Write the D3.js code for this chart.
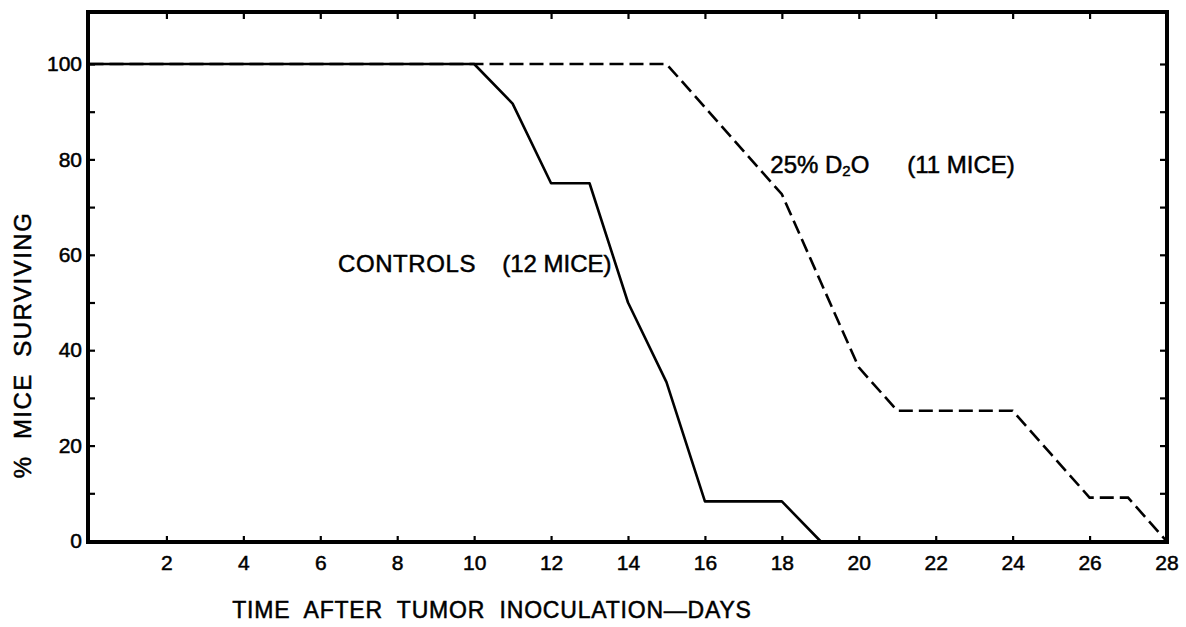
<!DOCTYPE html>
<meta charset="utf-8">
<style>
body { margin: 0; background: #fff; }
svg { font-family: "Liberation Sans", Arial, sans-serif; }
text { fill: #000; stroke: #000; stroke-width: 0.5px; white-space: pre; }
</style>
<svg width="1186" height="627"></svg>
<script src="https://cdn.jsdelivr.net/npm/d3@7"></script>
<script>
// survival curves, days vs % mice surviving
var controlDays = [0, 10, 11, 12, 13, 14, 15, 16, 18, 19];
var controlPct  = [100, 100, 91.7, 75, 75, 50, 33.3, 8.3, 8.3, 0];

var d2oDays = [0, 15, 16, 17, 18, 19, 20, 21, 24, 25, 26, 27, 28];
var d2oPct  = [100, 100, 90.9, 81.8, 72.7, 54.5, 36.4, 27.3, 27.3, 18.2, 9.1, 9.1, 0];

var xTicks = [2, 4, 6, 8, 10, 12, 14, 16, 18, 20, 22, 24, 26, 28];
var yTicks = [0, 10, 20, 30, 40, 50, 60, 70, 80, 90, 100];

var svg = d3.select("svg");

var x = d3.scaleLinear().domain([0, 28]).range([89.5, 1166.5]);
var y = d3.scaleLinear().domain([0, 110.9]).range([541, 12]);

var line = d3.line()
    .x(function(d) { return x(d[0]); })
    .y(function(d) { return y(d[1]); });

// frame
svg.append("rect")
    .attr("x", 88).attr("y", 12)
    .attr("width", 1167 - 88).attr("height", 542 - 12)
    .attr("fill", "none")
    .attr("stroke", "#000")
    .attr("stroke-width", 4);

var yAxis = svg.append("g")
    .attr("transform", "translate(88,0)")
    .call(d3.axisLeft(y).tickValues(yTicks).tickSize(-7).tickPadding(6)
      .tickFormat(function(d) { return d % 20 == 0 ? d : ""; }));

var yAxisR = svg.append("g")
    .attr("transform", "translate(1167,0)")
    .call(d3.axisRight(y).tickValues(yTicks.slice(1)).tickSize(-7).tickFormat(""));

var xAxis = svg.append("g")
    .attr("transform", "translate(0,542)")
    .call(d3.axisBottom(x).tickValues(xTicks).tickSize(-6).tickPadding(13));

var xAxisT = svg.append("g")
    .attr("transform", "translate(0,12)")
    .call(d3.axisTop(x).tickValues(xTicks.slice(0, -1)).tickSize(-7).tickFormat(""));

svg.selectAll(".domain").remove();
svg.selectAll(".tick line").attr("stroke", "#000").attr("stroke-width", 2.2);
svg.selectAll(".tick text")
    .attr("fill", "#000")
    .style("font-family", "'Liberation Sans', Arial, sans-serif")
    .style("font-size", "21px");

// curves
svg.append("path")
    .datum(d3.zip(controlDays, controlPct))
    .attr("d", line)
    .attr("fill", "none")
    .attr("stroke", "#000")
    .attr("stroke-width", 2.6)
    .attr("stroke-linejoin", "round");

svg.append("path")
    .datum(d3.zip(d2oDays, d2oPct))
    .attr("d", line)
    .attr("fill", "none")
    .attr("stroke", "#000")
    .attr("stroke-width", 2.6)
    .attr("stroke-dasharray", "14,6");

// labels
svg.append("text")
    .attr("x", x(6.46)).attr("y", y(58.3))
    .attr("dy", "0.36em")
    .style("font-size", "24px")
    .style("letter-spacing", "0.6px")
    .text("CONTROLS");

svg.append("text")
    .attr("x", x(10.73)).attr("y", y(58.3))
    .attr("dy", "0.36em")
    .style("font-size", "24px")
    .text("(12 MICE)");

var d2o = svg.append("text")
    .attr("x", x(17.7)).attr("y", y(79))
    .attr("dy", "0.36em")
    .style("font-size", "24px");
d2o.append("tspan").text("25% D");
d2o.append("tspan").attr("dy", "0.2em").style("font-size", "15px").text("2");
d2o.append("tspan").attr("dy", "-0.13em").text("O");

svg.append("text")
    .attr("x", x(21.26)).attr("y", y(79))
    .attr("dy", "0.36em")
    .style("font-size", "24px")
    .text("(11 MICE)");

svg.append("text")
    .attr("x", 492).attr("y", 610)
    .attr("dy", "0.36em")
    .attr("text-anchor", "middle")
    .style("font-size", "23px")
    .style("letter-spacing", "0.8px")
    .text("TIME  AFTER  TUMOR  INOCULATION\u2014DAYS");

svg.append("text")
    .attr("transform", "translate(22,345) rotate(-90)")
    .attr("dy", "0.36em")
    .attr("text-anchor", "middle")
    .style("font-size", "24px")
    .style("letter-spacing", "1.5px")
    .text("%  MICE  SURVIVING");
</script>
